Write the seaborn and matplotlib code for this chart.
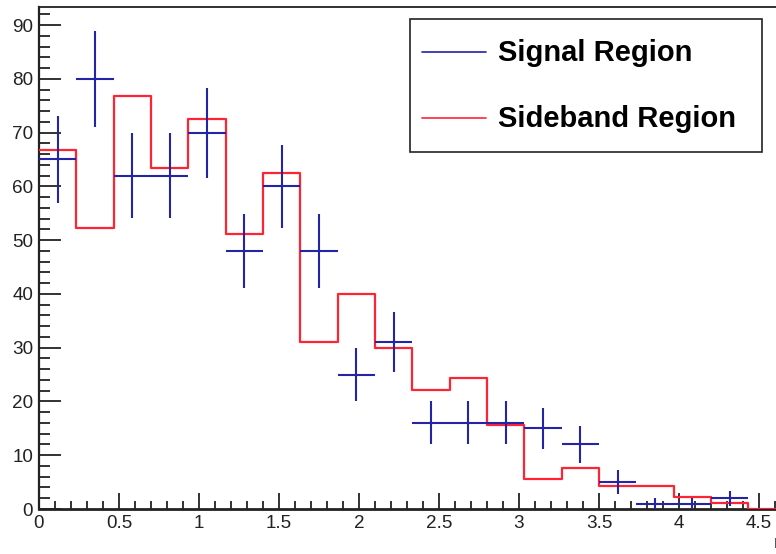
import numpy as np
import pandas as pd
import matplotlib
matplotlib.use("Agg")
import matplotlib.pyplot as plt
from matplotlib.ticker import MultipleLocator, FuncFormatter
from matplotlib.patches import Rectangle
from matplotlib.lines import Line2D
import seaborn as sns

# Histogram binning (bin width 7/30)
bin_edges = np.linspace(0.0, 4.9, 22)

# Signal region counts per bin (Poisson errors sqrt(N))
signal_counts = [65, 80, 62, 62, 70, 48, 60, 48, 25, 31, 16, 16, 16, 15, 12, 5, 1, 1, 2]

# Sideband region (scaled) contents per bin
sideband_counts = [66.7, 52.3, 76.8, 63.5, 72.5, 51.1, 62.4, 31.1, 40.0, 30.0,
                   22.2, 24.4, 15.6, 5.5, 7.7, 4.3, 4.3, 2.2, 1.2, 0.0, 0.0]

series_labels = ["Signal Region", "Sideband Region"]
series_colors = ["#2424a6", "#ff2333"]

W, H, DPI = 776, 554, 100
sns.set_theme(style="white")
plt.rcParams["font.family"] = ["Liberation Sans", "DejaVu Sans"]

fig = plt.figure(figsize=(W / DPI, H / DPI), dpi=DPI)
fig.patch.set_facecolor("white")

# Frame geometry in pixels
left_px, bottom_px, top_px = 39, 509, 7
x_max = 5.0
px_per_x = 160.0
ax = fig.add_axes([left_px / W, (H - bottom_px) / H,
                   x_max * px_per_x / W, (bottom_px - top_px) / H])
ax.set_facecolor("white")

centers = 0.5 * (bin_edges[:-1] + bin_edges[1:])
half_w = 0.5 * np.diff(bin_edges)

side_df = pd.DataFrame({"x": centers[:len(sideband_counts)], "w": sideband_counts})
sns.histplot(data=side_df, x="x", weights="w", bins=list(bin_edges), element="step",
             fill=False, color=series_colors[1], linewidth=1.6, ax=ax, zorder=3)

sig = np.array(signal_counts, dtype=float)
n_sig = len(sig)
ax.errorbar(centers[:n_sig], sig, xerr=half_w[:n_sig], yerr=np.sqrt(sig),
            fmt="none", ecolor=series_colors[0], elinewidth=1.5, capsize=0, zorder=4)

ax.set_xlim(0, x_max)
ax.set_ylim(0, 93.35)
ax.set_xlabel("")
ax.set_ylabel("")

# Only label ticks that fall inside the visible canvas
visible_x = (W - left_px) / px_per_x


def x_fmt(v, pos):
    return f"{v:g}" if v <= visible_x - 0.05 else ""


ax.xaxis.set_major_locator(MultipleLocator(0.5))
ax.xaxis.set_minor_locator(MultipleLocator(0.1))
ax.yaxis.set_major_locator(MultipleLocator(10))
ax.yaxis.set_minor_locator(MultipleLocator(2))
ax.xaxis.set_major_formatter(FuncFormatter(x_fmt))
ax.yaxis.set_major_formatter(FuncFormatter(lambda v, p: f"{v:g}"))

ax.tick_params(axis="y", which="major", direction="in", length=15.8, width=1.3,
               color="#222222", left=True, right=False, labelsize=13.6, pad=4.3,
               labelcolor="#222222")
ax.tick_params(axis="y", which="minor", direction="in", length=7.9, width=1.3,
               color="#222222", left=True, right=False)
ax.tick_params(axis="x", which="major", direction="in", length=11.5, width=1.3,
               color="#222222", bottom=True, top=False, labelsize=13.6, pad=4.3,
               labelcolor="#222222")
ax.tick_params(axis="x", which="minor", direction="in", length=5.8, width=1.3,
               color="#222222", bottom=True, top=False)

for side, lw in {"left": 1.6, "bottom": 2.0, "top": 1.3, "right": 1.3}.items():
    ax.spines[side].set_visible(True)
    ax.spines[side].set_color("#222222")
    ax.spines[side].set_linewidth(lw)

# Axis title at the end of the x axis
fig.text(774 / W, 1 - 543 / H, "m", fontsize=13.6, color="#222222",
         ha="left", va="center")


# Legend box
def fx(px):
    return px / W


def fy(py):
    return 1 - py / H


box = Rectangle((fx(410), fy(152)), fx(762) - fx(410), fy(19) - fy(152),
                transform=fig.transFigure, facecolor="white", edgecolor="#222222",
                linewidth=1.2, zorder=10)
fig.add_artist(box)
for label, color, base_y in zip(series_labels, series_colors, [61, 127]):
    line_y = base_y - 9
    fig.add_artist(Line2D([fx(422), fx(486)], [fy(line_y), fy(line_y)],
                          transform=fig.transFigure, color=color, linewidth=1.2,
                          zorder=11))
    fig.text(fx(498), fy(base_y), label, fontsize=21, fontweight="bold",
             color="black", ha="left", va="baseline", zorder=11)

fig.savefig("out.png", dpi=DPI, facecolor="white")
